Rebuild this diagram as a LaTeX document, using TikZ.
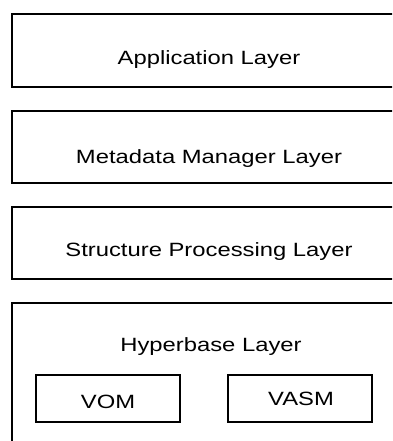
\documentclass[tikz,border=0pt]{standalone}
\usepackage{fontspec}
\setmainfont{Liberation Sans}[FakeStretch=1.24]
\usetikzlibrary{positioning}
\tikzset{
  layer/.style={draw=black,line width=1.8pt,minimum width=392pt,
                inner sep=0pt,fill=white},
  module/.style={draw=black,line width=1.8pt,minimum width=144pt,
                 minimum height=47pt,inner sep=0pt},
  layertext/.style={anchor=base,inner sep=0pt,font=\fontsize{19.2}{21}\selectfont}
}

\begin{document}
\begin{tikzpicture}[x=1pt,y=-1pt]
    \useasboundingbox (0,0) rectangle (392,441);
    \clip (0,0) rectangle (392,441);

    \foreach \nm/\yy/\hh/\ty/\txt in {app/50.7/73.3/64.5/Application Layer,
                                      meta/146.7/72/163.3/Metadata Manager Layer,
                                      struct/242.7/72/256/Structure Processing Layer}{
      \node[layer,minimum height=\hh pt] (\nm) at (208,\yy) {};
      \node[layertext] (\nm text) at (209,\ty) {\txt};
    }

    \node[layer,minimum height=177pt] (hyper) at (208,391.5) {};
    \node[layertext] (hypertext) at (211,351) {Hyperbase Layer};
    \node[module] (vom) at (108,398.5) {};
    \node[layertext] (vomtext) at (108,408.3) {VOM};
    \node[module] (vasm) at (300,398.5) {};
    \node[layertext] (vasmtext) at (301,405) {VASM};
  \end{tikzpicture}
\end{document}
